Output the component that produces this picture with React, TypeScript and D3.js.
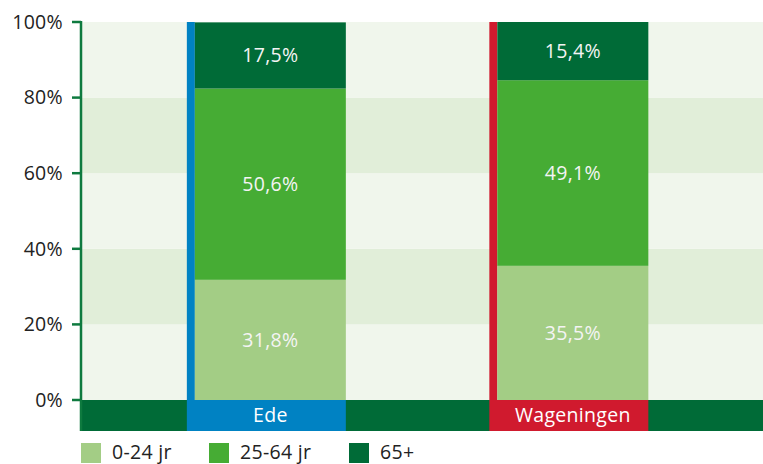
import React from 'react';
import * as d3 from 'd3';

const places = ['Ede', 'Wageningen'];
const placeColors = ['#0082c3', '#d01a2e'];
const groups = ['0-24 jr', '25-64 jr', '65+'];
const groupColors = ['#a3cd85', '#46ac34', '#006b37'];
const young = [31.8, 35.5];
const middle = [50.6, 49.1];
const old = [17.5, 15.4];
const yTicks = [0, 20, 40, 60, 80, 100];

const W = 763;
const H = 464;
const margin = { top: 22, right: 0, bottom: 64, left: 81 };
const font = '"Open Sans", sans-serif';
const fs = 19.5;
const ls = 0.3;

const fmt = (v: number) => d3.format('.1f')(v).replace('.', ',') + '%';

export default function App() {
    const x = d3.scaleBand<string>()
        .domain(places)
        .range([margin.left, W - margin.right])
        .paddingInner(0.4744)
        .paddingOuter(0.3645)
        .align(0.48);

    const y = d3.scaleLinear()
        .domain([0, 100])
        .range([H - margin.bottom, margin.top]);

    const rows = places.map((p, i) => ({ place: p, a: young[i], b: middle[i], c: old[i] }));
    const stacked = d3.stack<any>().keys(['a', 'b', 'c'])(rows);

    const stripeW = 8;
    const bandH = 31;
    const base = y(0);

    return (
        <svg width={W} height={H} style={{ position: 'absolute', left: 0, top: 0 }}>
            {/* background stripes */}
            {yTicks.slice(0, -1).map((t, i) => (
                <rect
                    key={t}
                    x={margin.left}
                    y={y(t + 20)}
                    width={W - margin.left}
                    height={y(t) - y(t + 20)}
                    fill={i % 2 === 0 ? '#f0f6ec' : '#e1eed9'}
                />
            ))}

            {/* bottom band */}
            <rect x={margin.left} y={base} width={W - margin.left} height={bandH} fill="#006b37" />

            {places.map((p, i) => (
                <g key={p}>
                    <rect x={x(p)} y={y(100)} width={stripeW} height={base - y(100)} fill={placeColors[i]} />
                    <rect x={x(p)} y={base} width={x.bandwidth()} height={bandH} fill={placeColors[i]} />
                    <text
                        x={x(p)! + x.bandwidth() / 2 + stripeW / 2}
                        y={base + bandH / 2}
                        dy="0.35em"
                        textAnchor="middle"
                        fill="#fff"
                        fontFamily={font}
                        fontSize={fs}
                        letterSpacing={ls}
                    >{p}</text>
                </g>
            ))}

            {/* stacked segments */}
            {stacked.map((s, si) => (
                <g key={s.key}>
                    {s.map((d: any) => {
                        const x0 = x(d.data.place)! + stripeW;
                        const w = x.bandwidth() - stripeW;
                        const v = d[1] - d[0];
                        return (
                            <g key={d.data.place}>
                                <rect x={x0} y={y(d[1])} width={w} height={y(d[0]) - y(d[1])} fill={groupColors[si]} />
                                <text
                                    x={x0 + w / 2}
                                    y={(y(d[0]) + y(d[1])) / 2}
                                    dy="0.35em"
                                    textAnchor="middle"
                                    fill="#f4f4f4"
                                    fontFamily={font}
                                    fontSize={fs}
                                    letterSpacing={ls}
                                >{fmt(v)}</text>
                            </g>
                        );
                    })}
                </g>
            ))}

            {/* y axis */}
            <line x1={margin.left} x2={margin.left} y1={y(100) - 1} y2={base + bandH} stroke="#0e7a3f" strokeWidth={2.5} />
            {yTicks.map(t => (
                <g key={t}>
                    <line x1={margin.left - 9} x2={margin.left} y1={y(t)} y2={y(t)} stroke="#0e7a3f" strokeWidth={2.5} />
                    <text
                        x={63}
                        y={y(t)}
                        dy="0.35em"
                        textAnchor="end"
                        fill="#222"
                        fontFamily={font}
                        fontSize={fs}
                        letterSpacing={ls}
                    >{t}%</text>
                </g>
            ))}

            {/* legend */}
            {groups.map((g, i) => {
                const lx = [81, 209, 349][i];
                return (
                    <g key={g}>
                        <rect x={lx} y={443} width={20} height={20} fill={groupColors[i]} />
                        <text x={lx + 31} y={452} dy="0.35em" fill="#222" fontFamily={font} fontSize={fs} letterSpacing={ls}>{g}</text>
                    </g>
                );
            })}
        </svg>
    );
}
